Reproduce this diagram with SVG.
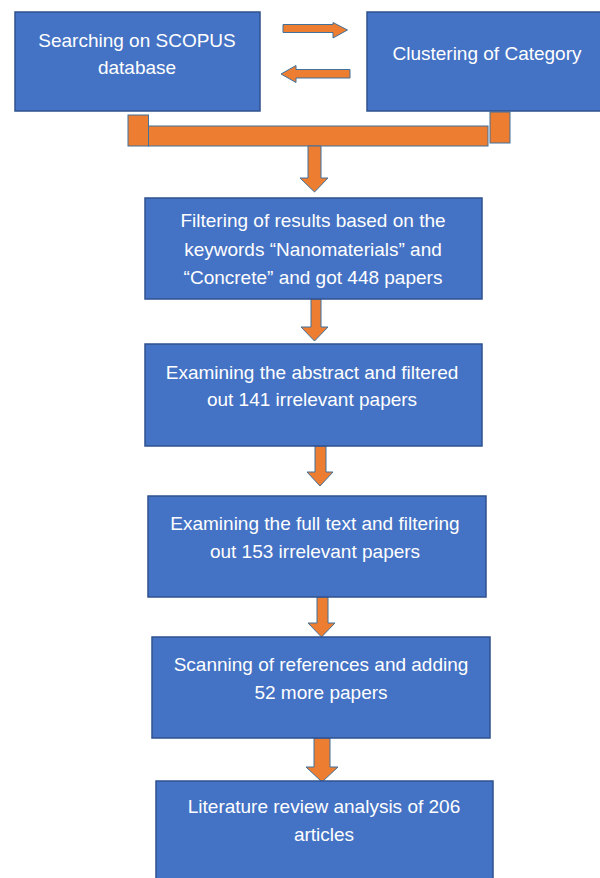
<svg xmlns="http://www.w3.org/2000/svg" width="600" height="878" viewBox="0 0 600 878">
<style>
.box{fill:#4472C4;stroke:#2F528F;stroke-width:1.5}
.arr{fill:#ED7D31;stroke:#41719C;stroke-width:1}
text{font-family:"Liberation Sans",Arial,sans-serif;font-size:19px;fill:#FFFFFF;text-anchor:middle}
</style>
<rect width="600" height="878" fill="#FFFFFF"/>
<g id="connectors">
<path class="arr" d="M283,24.5 H333 V22.5 L347.5,30 L333,38 V32.5 H283 Z"/>
<path class="arr" d="M350,69.5 H296 V65.5 L281,74 L296,82.5 V78 H350 Z"/>
<rect class="arr" x="128" y="115" width="20.5" height="31"/>
<rect class="arr" x="148.5" y="126" width="339.5" height="20"/>
<rect class="arr" x="490" y="112" width="20" height="31"/>
<path class="arr" d="M308,146 H321 V178 H328 L314.5,192 L300,178 H308 Z"/>
<path class="arr" d="M311,299 H321 V327 H328 L314.5,341 L301,327 H311 Z"/>
<path class="arr" d="M315,446 H326 V472 H333 L320,486 L307,472 H315 Z"/>
<path class="arr" d="M317,597 H328 V623 H335 L321.5,637 L308,623 H317 Z"/>
<path class="arr" d="M314,738 H330 V767 H338 L322,782 L306,767 H314 Z"/>
</g>
<g id="n1">
<rect class="box" x="15" y="12" width="245" height="99"/>
<text x="137" y="47">Searching on SCOPUS</text>
<text x="137" y="74">database</text>
</g>
<g id="n2">
<rect class="box" x="367" y="12" width="240" height="99"/>
<text x="487" y="60">Clustering of Category</text>
</g>
<g id="n3">
<rect class="box" x="145" y="198" width="337" height="101"/>
<text x="313" y="227">Filtering of results based on the</text>
<text x="313" y="256">keywords “Nanomaterials” and</text>
<text x="313" y="284">“Concrete” and got 448 papers</text>
</g>
<g id="n4">
<rect class="box" x="145" y="344" width="337" height="102"/>
<text x="312" y="379">Examining the abstract and filtered</text>
<text x="312" y="406">out 141 irrelevant papers</text>
</g>
<g id="n5">
<rect class="box" x="148" y="496" width="338" height="101"/>
<text x="315" y="530">Examining the full text and filtering</text>
<text x="315" y="558">out 153 irrelevant papers</text>
</g>
<g id="n6">
<rect class="box" x="152" y="637" width="338" height="101"/>
<text x="321" y="671">Scanning of references and adding</text>
<text x="321" y="699">52 more papers</text>
</g>
<g id="n7">
<rect class="box" x="156" y="781" width="337" height="110"/>
<text x="324" y="813">Literature review analysis of 206</text>
<text x="324" y="841">articles</text>
</g>
</svg>
